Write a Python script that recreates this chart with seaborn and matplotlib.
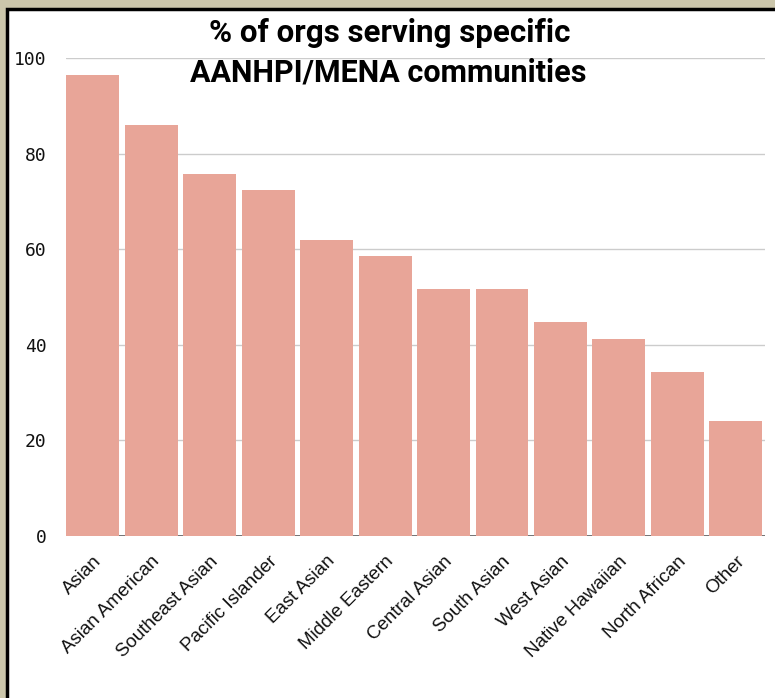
import matplotlib
matplotlib.use("Agg")
import matplotlib.pyplot as plt
import seaborn as sns
import pandas as pd
from matplotlib.patches import Rectangle

categories = ["Asian", "Asian American", "Southeast Asian", "Pacific Islander",
              "East Asian", "Middle Eastern", "Central Asian", "South Asian",
              "West Asian", "Native Hawaiian", "North African", "Other"]
values = [96.5, 86.0, 75.8, 72.4, 62.0, 58.6, 51.6, 51.6, 44.8, 41.3, 34.4, 24.1]
yticks = [0, 20, 40, 60, 80, 100]
title_lines = ["% of orgs serving specific", "AANHPI/MENA communities"]

df = pd.DataFrame({"community": categories, "pct": values})

sns.set_theme(style="white")
plt.rcParams['font.family'] = ['Liberation Sans', 'DejaVu Sans']

W, H = 775, 698
fig = plt.figure(figsize=(W / 100, H / 100), dpi=100, facecolor="#cbc6ab")

# white panel with black border
panel = Rectangle((7 / W, -0.1), 1.2, 1 - 9 / H + 0.1, transform=fig.transFigure,
                  facecolor="white", edgecolor="black", linewidth=2.5, zorder=-10)
fig.patches.append(panel)

ax = fig.add_axes([66 / W, 1 - 536 / H, (765 - 66) / W, (536 - 58) / H])
ax.set_facecolor("none")
ax.set_zorder(1)

sns.barplot(data=df, x="community", y="pct", color="#e8a598", saturation=1,
            width=0.905, ax=ax, zorder=3)
for p in ax.patches:
    p.set_edgecolor("none")

ax.set_ylim(0, 100)
ax.set_xlim(-0.46, 11.5)
ax.set_yticks(yticks)
ax.set_yticklabels([str(t) for t in yticks], family="DejaVu Sans Mono", fontsize=13, color="#111111")
for t in yticks[1:]:
    ax.axhline(t, color="#cccccc", linewidth=1, zorder=1)
ax.axhline(0, color="#666666", linewidth=2, zorder=2)

ax.tick_params(axis="y", length=0, pad=14)
ax.tick_params(axis="x", length=0, pad=12)
ax.set_xticks(range(len(categories)))
ax.set_xticklabels(categories, rotation=45, ha="right", rotation_mode="anchor",
                   fontsize=13.5, color="#111111")
ax.set_xlabel("")
ax.set_ylabel("")
for s in ax.spines.values():
    s.set_visible(False)

fig.text(390 / W, 1 - 33 / H, title_lines[0], ha="center", va="center",
         fontsize=22.5, fontweight="bold", family="Roboto", color="black", zorder=5)
fig.text(388 / W, 1 - 73 / H, title_lines[1], ha="center", va="center",
         fontsize=22, fontweight="bold", family="Roboto", color="black", zorder=5)

fig.savefig("out.png", dpi=100, facecolor=fig.get_facecolor())
